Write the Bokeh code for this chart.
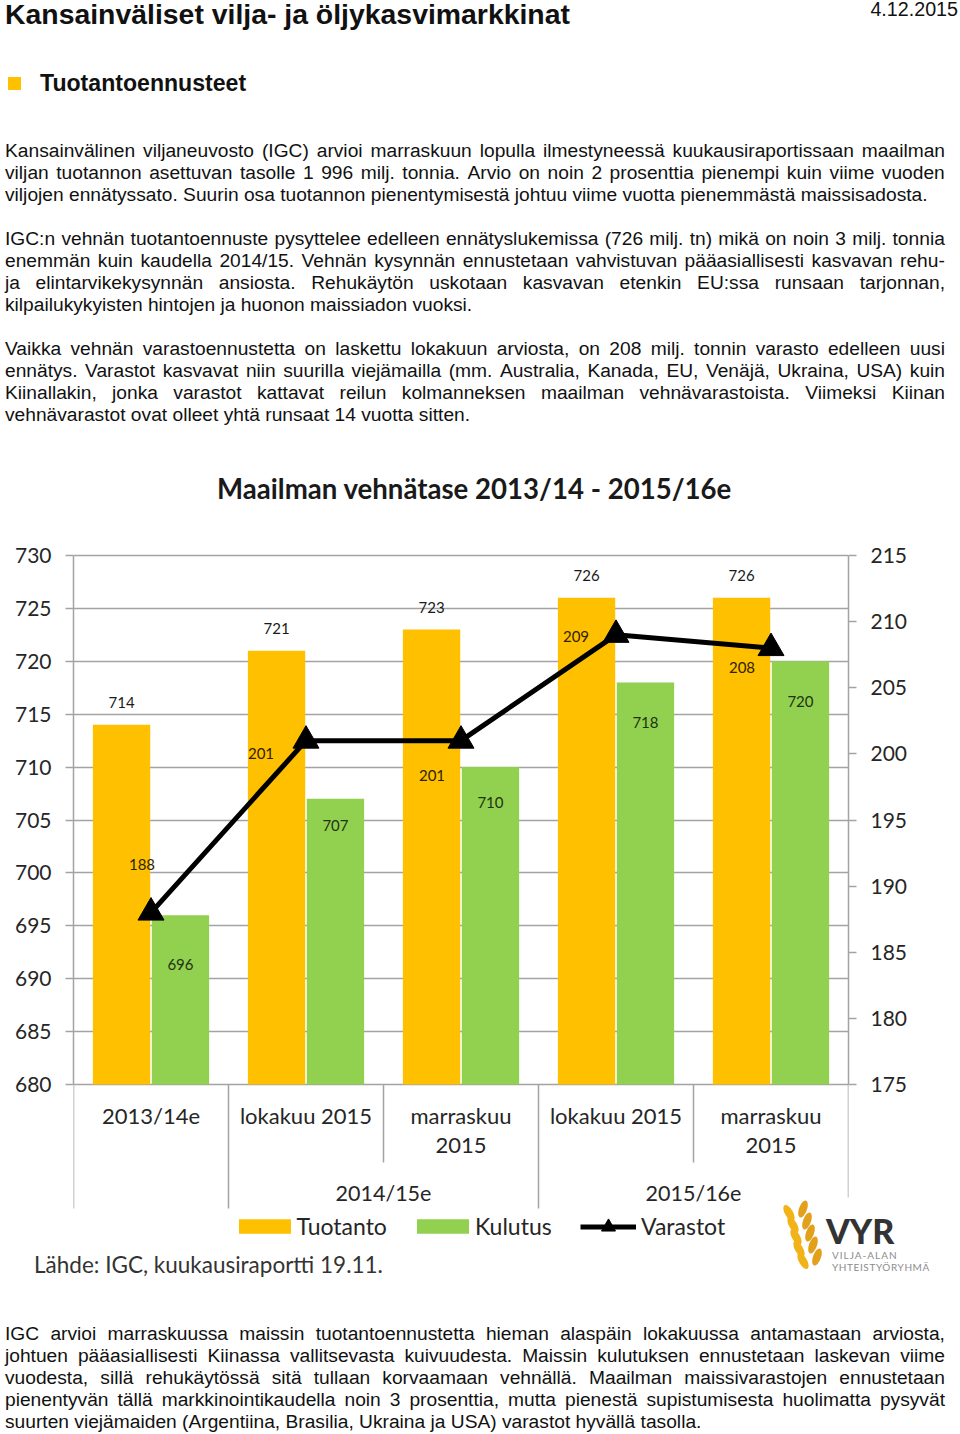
import html as _html
from bokeh.plotting import figure
from bokeh.models import (ColumnDataSource, Range1d, FactorRange, LinearAxis, LabelSet, Label,
                          Legend, LegendItem, Div, FixedTicker)
from bokeh.transform import dodge
from bokeh.layouts import column
from bokeh.core.properties import value
from bokeh.embed import file_html
from bokeh.resources import INLINE

# ---------------- data ----------------
seasons = ["2013/14e", "2014/15e", "2014/15e", "2015/16e", "2015/16e"]
months = ["", "lokakuu 2015", "marraskuu 2015", "lokakuu 2015", "marraskuu 2015"]
category_labels = ["2013/14e", "lokakuu 2015", "marraskuu\n2015", "lokakuu 2015", "marraskuu\n2015"]
group_labels = ["2014/15e", "2015/16e"]
tuotanto = [714, 721, 723, 726, 726]
kulutus = [696, 707, 710, 718, 720]
varastot = [188, 201, 201, 209, 208]
left_ticks = [680, 685, 690, 695, 700, 705, 710, 715, 720, 725, 730]
right_ticks = [175, 180, 185, 190, 195, 200, 205, 210, 215]

chart_title = "Maailman vehnätase 2013/14 - 2015/16e"
source_text = "Lähde: IGC, kuukausiraportti 19.11."

page_title = "Kansainväliset vilja- ja öljykasvimarkkinat"
page_date = "4.12.2015"
section_title = "Tuotantoennusteet"
para_top = [
    ["Kansainvälinen viljaneuvosto (IGC) arvioi marraskuun lopulla ilmestyneessä kuukausiraportissaan maailman",
     "viljan tuotannon asettuvan tasolle 1 996 milj. tonnia. Arvio on noin 2 prosenttia pienempi kuin viime vuoden",
     "viljojen ennätyssato. Suurin osa tuotannon pienentymisestä johtuu viime vuotta pienemmästä maissisadosta."],
    ["IGC:n vehnän tuotantoennuste pysyttelee edelleen ennätyslukemissa (726 milj. tn) mikä on noin 3 milj. tonnia",
     "enemmän kuin kaudella 2014/15. Vehnän kysynnän ennustetaan vahvistuvan pääasiallisesti kasvavan rehu-",
     "ja elintarvikekysynnän ansiosta. Rehukäytön uskotaan kasvavan etenkin EU:ssa runsaan tarjonnan,",
     "kilpailukykyisten hintojen ja huonon maissiadon vuoksi."],
    ["Vaikka vehnän varastoennustetta on laskettu lokakuun arviosta, on 208 milj. tonnin varasto edelleen uusi",
     "ennätys. Varastot kasvavat niin suurilla viejämailla (mm. Australia, Kanada, EU, Venäjä, Ukraina, USA) kuin",
     "Kiinallakin, jonka varastot kattavat reilun kolmanneksen maailman vehnävarastoista. Viimeksi Kiinan",
     "vehnävarastot ovat olleet yhtä runsaat 14 vuotta sitten."],
]
para_bottom = [
    "IGC arvioi marraskuussa maissin  tuotantoennustetta hieman alaspäin lokakuussa antamastaan arviosta,",
    "johtuen pääasiallisesti Kiinassa vallitsevasta kuivuudesta. Maissin kulutuksen ennustetaan laskevan viime",
    "vuodesta, sillä rehukäytössä sitä tullaan korvaamaan vehnällä. Maailman maissivarastojen ennustetaan",
    "pienentyvän tällä markkinointikaudella noin 3 prosenttia, mutta pienestä supistumisesta huolimatta pysyvät",
    "suurten viejämaiden (Argentiina, Brasilia, Ukraina ja USA) varastot hyvällä tasolla.",
]

# ---------------- layout / style ----------------
YELLOW = "#FFC000"
GREEN = "#92D050"
GRID = "#a3a3a3"
TXT = "#262626"
FONT = "Lato"
BODY_FONT = "'Liberation Sans', Arial, sans-serif"

PAGE_W = 960
TOP_H = 450                 # page text block above the chart
FIG_Y0, FIG_Y1 = 450, 1240  # chart figure on the page
BOTTOM_H = 1434 - FIG_Y1
PLOT_L, PLOT_R = 73, 848    # plot area (page px)
PLOT_T, PLOT_B = 555, 1084
Y0, Y1 = left_ticks[0], left_ticks[-1]
R0, R1 = right_ticks[0], right_ticks[-1]
N = len(tuotanto)

px_per_unit = (PLOT_B - PLOT_T) / (Y1 - Y0)
y_lo = Y0 - (FIG_Y1 - PLOT_B) / px_per_unit
y_hi = Y1 + (PLOT_T - FIG_Y0) / px_per_unit
r_scale = (R1 - R0) / (Y1 - Y0)
r_lo = R0 + (y_lo - Y0) * r_scale
r_hi = R0 + (y_hi - Y0) * r_scale

def data_x(page_x):
    return (page_x - PLOT_L) / (PLOT_R - PLOT_L) * N

def data_y(page_y):
    return Y1 - (page_y - PLOT_T) / px_per_unit

factors = [(s + " " + m).strip() for s, m in zip(seasons, months)]
cat_line1 = [c.split("\n")[0] for c in category_labels]
cat_line2 = [c.split("\n")[1] if "\n" in c else "" for c in category_labels]

src = ColumnDataSource(dict(
    period=factors, tuotanto=tuotanto, kulutus=kulutus, varastot=varastot,
    t_txt=[str(v) for v in tuotanto], k_txt=[str(v) for v in kulutus],
    v_txt=[str(v) for v in varastot], cat1=cat_line1, cat2=cat_line2,
    base=[Y0] * N,
    k_dy=[-49, -27, -35, -40, -40],
    v_dx=[-9, -45, -29, -40, -29],
    v_dy=[48, -13, -35, -2, -19],
))

p = figure(width=PAGE_W, height=FIG_Y1 - FIG_Y0, output_backend="svg", toolbar_location=None,
           title=None, x_axis_location=None,
           x_range=FactorRange(factors=factors, range_padding=0, factor_padding=0),
           y_range=Range1d(y_lo, y_hi),
           min_border_left=PLOT_L, min_border_right=PAGE_W - PLOT_R,
           min_border_top=0, min_border_bottom=0)
p.extra_y_ranges = {"varastot": Range1d(r_lo, r_hi)}
p.outline_line_color = None
p.background_fill_color = "white"
p.border_fill_color = "white"

# axes
p.yaxis.ticker = FixedTicker(ticks=left_ticks)
p.yaxis.bounds = (Y0, Y1)
right_axis = LinearAxis(y_range_name="varastot", ticker=FixedTicker(ticks=right_ticks), bounds=(R0, R1))
p.add_layout(right_axis, "right")
for ax in (p.yaxis[0], right_axis):
    ax.axis_line_color = GRID
    ax.axis_line_width = 1.5
    ax.major_tick_line_color = GRID
    ax.major_tick_line_width = 1.5
    ax.major_tick_out = 8
    ax.major_tick_in = 0
    ax.minor_tick_line_color = None
    ax.major_label_text_font = FONT
    ax.major_label_text_font_size = "21px"
    ax.major_label_text_color = TXT
    ax.major_label_standoff = 14
p.xgrid.grid_line_color = None
p.ygrid.grid_line_color = GRID
p.ygrid.grid_line_width = 1.5

# bars
r_t = p.vbar(x=dodge("period", -0.19, range=p.x_range), top="tuotanto", bottom=Y0, width=0.37,
             fill_color=YELLOW, line_color=None, source=src)
r_k = p.vbar(x=dodge("period", 0.19, range=p.x_range), top="kulutus", bottom=Y0, width=0.37,
             fill_color=GREEN, line_color=None, source=src)
# stocks line
r_line = p.line(x="period", y="varastot", y_range_name="varastot", line_color="black",
                line_width=5, source=src)
r_pts = p.scatter(x="period", y="varastot", y_range_name="varastot", marker="triangle",
                  size=26, fill_color="black", line_color="black", source=src)

# data labels
p.add_layout(LabelSet(x=dodge("period", -0.19, range=p.x_range), y="tuotanto", text="t_txt",
                      y_offset=22, text_align="center", text_baseline="middle",
                      text_font=value(FONT), text_font_size="15px", text_color="#1a1a1a", source=src))
p.add_layout(LabelSet(x=dodge("period", 0.19, range=p.x_range), y="kulutus", text="k_txt",
                      y_offset="k_dy", text_align="center", text_baseline="middle",
                      text_font=value(FONT), text_font_size="15px", text_color="#1e3310", source=src))
p.add_layout(LabelSet(x="period", y="varastot", y_range_name="varastot", text="v_txt",
                      x_offset="v_dx", y_offset="v_dy", text_align="center", text_baseline="middle",
                      text_font=value(FONT), text_font_size="15px", text_color="#2e2300", source=src))

# category labels below the axis (two centred lines)
for col, off in (("cat1", -31), ("cat2", -61)):
    p.add_layout(LabelSet(x="period", y="base", text=col, y_offset=off, text_align="center",
                          text_baseline="middle", text_font=value(FONT), text_font_size="22px",
                          text_color=TXT, source=src))
for g in group_labels:
    idx = [i for i, s in enumerate(seasons) if s == g]
    p.add_layout(Label(x=(idx[0] + idx[-1] + 1) / 2, y=data_y(1192), text=g, text_align="center",
                       text_baseline="middle", text_font=FONT, text_font_size="21.5px", text_color=TXT))

# category separators (long between seasons, short within a season)
sep_x = list(range(N + 1))
sep_end = [data_y(v) for v in (1208, 1208, 1162, 1208, 1162, 1197)]
p.segment(x0=sep_x, y0=[Y0] * (N + 1), x1=sep_x, y1=sep_end, line_color=GRID, line_width=1.5)

# chart title
p.add_layout(Label(x=data_x(474), y=data_y(488), text=chart_title, text_align="center",
                   text_baseline="middle", text_font=FONT, text_font_style="bold",
                   text_font_size="27.6px", text_color="#1a1a1a"))

# legends (bars and the stock line use different glyph boxes)
leg_style = dict(orientation="horizontal", padding=0, margin=0, border_line_color=None,
                 background_fill_alpha=0, label_text_font=FONT, label_text_font_size="23px",
                 label_text_color=TXT)
legend_bars = Legend(items=[LegendItem(label="Tuotanto", renderers=[r_t]),
                            LegendItem(label="Kulutus", renderers=[r_k])],
                     location=(231.5 - PLOT_L, FIG_Y1 - 1239.5),
                     glyph_width=65, glyph_height=18, label_standoff=0, spacing=23, **leg_style)
legend_line = Legend(items=[LegendItem(label="Varastot", renderers=[r_line, r_pts])],
                     location=(580 - PLOT_L, FIG_Y1 - 1243.5),
                     glyph_width=56, glyph_height=35, label_standoff=5, **leg_style)
p.add_layout(legend_bars)
p.add_layout(legend_line)

# ---------------- text blocks (HTML) ----------------
def justified_line(text, top, left=5, width=940):
    spans = "".join("<span>%s</span>" % _html.escape(w) for w in text.split())
    return ('<div style="position:absolute;left:%dpx;top:%dpx;width:%dpx;height:22px;line-height:22px;'
            'display:flex;justify-content:space-between;white-space:nowrap;">%s</div>' % (left, top, width, spans))

def plain_line(text, top, left=5):
    return ('<div style="position:absolute;left:%dpx;top:%dpx;height:22px;line-height:22px;'
            'white-space:nowrap;">%s</div>' % (left, top, _html.escape(text)))

def para_html(lines, first_center, offset):
    out = []
    for i, line in enumerate(lines):
        top = first_center + 22 * i - offset - 11
        out.append(plain_line(line, top) if i == len(lines) - 1 else justified_line(line, top))
    return out

top_parts = [
    '<div style="position:absolute;left:5px;top:-2px;height:32px;line-height:32px;font-size:28.4px;'
    'font-weight:bold;white-space:nowrap;">%s</div>' % _html.escape(page_title),
    '<div style="position:absolute;left:0px;top:-2px;width:958px;height:22px;line-height:22px;'
    'font-size:19.7px;text-align:right;white-space:nowrap;">%s</div>' % _html.escape(page_date),
    '<div style="position:absolute;left:8px;top:77px;width:13px;height:13px;background:%s;"></div>' % YELLOW,
    '<div style="position:absolute;left:40px;top:70px;height:26px;line-height:26px;font-size:23.1px;'
    'font-weight:bold;white-space:nowrap;">%s</div>' % _html.escape(section_title),
]
for lines, c in zip(para_top, [151, 239, 349]):
    top_parts += para_html(lines, c, 0)

# bottom block: source note, logo, closing paragraph
leaf = ('<div style="position:absolute;left:%.0fpx;top:%.0fpx;width:18px;height:8px;border-radius:50%%;'
        'background:%s;transform:rotate(%ddeg);"></div>')
leaves = []
for i in range(5):
    leaves.append(leaf % (780 + 3.5 * i, 1209 + 12 * i - FIG_Y1, "#F2B318", 60))
    leaves.append(leaf % (794 + 3.5 * i, 1205 + 12 * i - FIG_Y1, "#E3A01B", 110))
bottom_parts = [
    '<div style="position:absolute;left:34px;top:%dpx;height:26px;line-height:26px;font-family:Lato;'
    'font-size:22.5px;color:#333;white-space:nowrap;">%s</div>' % (1265 - FIG_Y1 - 13, _html.escape(source_text)),
    '<div style="position:absolute;left:826px;top:%dpx;height:26px;line-height:26px;font-family:Lato;'
    'font-size:34px;font-weight:900;color:#333;white-space:nowrap;">VYR</div>' % (1231 - FIG_Y1 - 13),
    '<div style="position:absolute;left:832px;top:%dpx;height:11px;line-height:11px;font-family:Lato;'
    'font-size:10px;letter-spacing:1px;color:#8c8c8c;white-space:nowrap;">VILJA-ALAN</div>' % (1255 - FIG_Y1 - 5),
    '<div style="position:absolute;left:832px;top:%dpx;height:11px;line-height:11px;font-family:Lato;'
    'font-size:10px;letter-spacing:0.6px;color:#8c8c8c;white-space:nowrap;">YHTEISTYÖRYHMÄ</div>' % (1267 - FIG_Y1 - 5),
] + leaves + para_html(para_bottom, 1334, FIG_Y1)

container = ('<div style="position:relative;width:%dpx;height:%dpx;font-family:%s;font-size:19.2px;'
             'color:#111;overflow:visible;">%s</div>')
top_div = Div(text=container % (PAGE_W, TOP_H, BODY_FONT, "".join(top_parts)),
              width=PAGE_W, height=TOP_H, margin=0, styles={"overflow": "visible"})
bottom_div = Div(text=container % (PAGE_W, BOTTOM_H, BODY_FONT, "".join(bottom_parts)),
                 width=PAGE_W, height=BOTTOM_H, margin=0, styles={"overflow": "visible"})

layout = column(top_div, p, bottom_div, spacing=0)
open("out.html", "w").write(file_html(layout, INLINE, title="Kansainväliset vilja- ja öljykasvimarkkinat"))
